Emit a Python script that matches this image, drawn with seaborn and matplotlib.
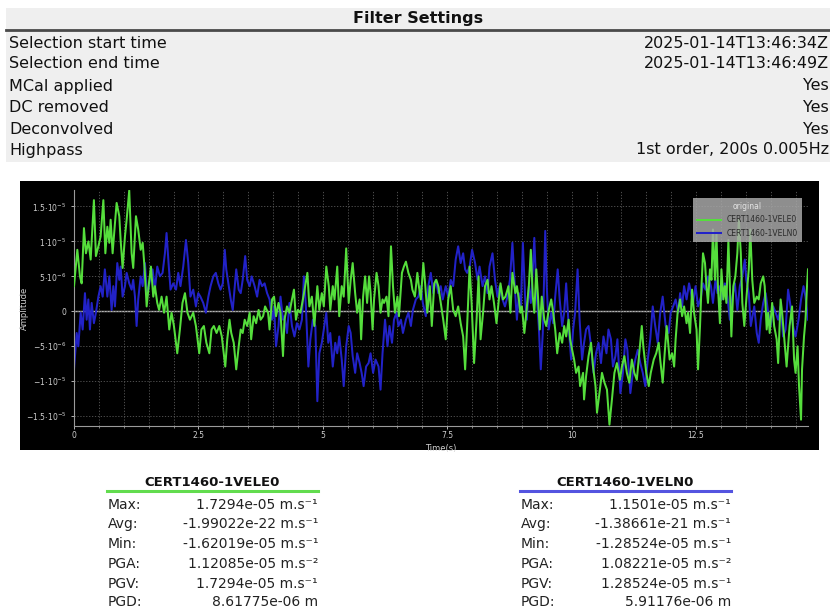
import numpy as np
import pandas as pd
import matplotlib
matplotlib.use("Agg")
import matplotlib.pyplot as plt
from matplotlib.patches import Rectangle
from matplotlib.lines import Line2D
from matplotlib.ticker import MultipleLocator, FuncFormatter
import seaborn as sns

# ---------------------------------------------------------------- data
filter_labels = ["Selection start time", "Selection end time", "MCal applied",
                 "DC removed", "Deconvolved", "Highpass"]
filter_values = ["2025-01-14T13:46:34Z", "2025-01-14T13:46:49Z", "Yes",
                 "Yes", "Yes", "1st order, 200s 0.005Hz"]

chan_e = "CERT1460-1VELE0"
chan_n = "CERT1460-1VELN0"

# velocity traces (time in s, amplitude in micrometres per second)
e_time = [0.00, 0.067, 0.12, 0.154, 0.20, 0.24, 0.29, 0.335, 0.40, 0.44, 0.49, 0.535, 0.59, 0.63,
          0.67, 0.71, 0.736, 0.776, 0.823, 0.857, 0.91, 0.937, 0.977, 1.024, 1.058, 1.11, 1.158,
          1.19, 1.245, 1.29, 1.34, 1.38, 1.42, 1.46, 1.50, 1.546, 1.593, 1.626, 1.673, 1.71, 1.76,
          1.81, 1.86, 1.914, 1.96, 2.008, 2.075, 2.128, 2.18, 2.23, 2.28, 2.33, 2.396, 2.45, 2.517,
          2.56, 2.61, 2.66, 2.72, 2.764, 2.81, 2.865, 2.92, 2.97,
          3.04, 3.08, 3.125, 3.16, 3.21, 3.26, 3.31, 3.35, 3.39, 3.43, 3.48, 3.53, 3.56, 3.61, 3.66,
          3.71, 3.75, 3.80, 3.84, 3.90, 3.93, 3.98, 4.02, 4.06, 4.11, 4.15, 4.20, 4.23, 4.28, 4.33,
          4.38, 4.42, 4.46, 4.50, 4.55, 4.60, 4.645, 4.69, 4.73, 4.78, 4.83, 4.89, 4.93, 4.98, 5.02,
          5.07, 5.12, 5.15, 5.20, 5.235, 5.29, 5.33, 5.38, 5.42, 5.47, 5.52, 5.56, 5.60, 5.65, 5.69,
          5.74, 5.77, 5.81, 5.85, 5.89,
          5.93, 5.96, 6.00, 6.03, 6.08, 6.12, 6.16, 6.20, 6.23, 6.28, 6.32, 6.37, 6.41, 6.45, 6.50,
          6.53, 6.59, 6.63, 6.67, 6.72, 6.77, 6.80, 6.85, 6.90, 6.93, 6.97, 7.02, 7.06, 7.10, 7.15,
          7.19, 7.24, 7.28, 7.32, 7.37, 7.42, 7.47, 7.52, 7.57, 7.62, 7.67, 7.72, 7.77, 7.82, 7.86,
          7.90, 7.95, 7.99, 8.04, 8.09, 8.13, 8.17, 8.22, 8.26, 8.31, 8.35, 8.39, 8.44, 8.49, 8.53,
          8.57, 8.62, 8.67, 8.73, 8.77, 8.81,
          8.87, 8.90, 8.94, 8.97, 9.00, 9.05, 9.09, 9.14, 9.18, 9.22, 9.25, 9.29, 9.32, 9.36, 9.40,
          9.45, 9.49, 9.54, 9.59, 9.63, 9.67, 9.71, 9.76, 9.81, 9.85, 9.89, 9.94, 9.97, 10.01, 10.05,
          10.09, 10.14, 10.17, 10.23, 10.25, 10.29, 10.34, 10.39, 10.43, 10.48, 10.51, 10.56, 10.61,
          10.66, 10.71, 10.76, 10.81, 10.86, 10.91, 10.97, 11.01, 11.06, 11.11, 11.16, 11.21, 11.26,
          11.31, 11.36, 11.41, 11.44, 11.50, 11.55, 11.59, 11.65, 11.70, 11.75, 11.78, 11.83,
          11.87, 11.91, 11.94, 11.97, 12.02, 12.06, 12.09, 12.13, 12.18, 12.22, 12.26, 12.31, 12.34,
          12.38, 12.42, 12.46, 12.51, 12.54, 12.58, 12.61, 12.64, 12.68, 12.71, 12.74, 12.78, 12.81,
          12.84, 12.88, 12.91, 12.94, 12.98, 13.01, 13.05, 13.08, 13.11, 13.15, 13.18, 13.21, 13.25,
          13.29, 13.33, 13.36, 13.40, 13.43, 13.47, 13.52, 13.56, 13.59, 13.63, 13.67, 13.72, 13.76,
          13.80, 13.85, 13.88, 13.92, 13.95, 13.98, 14.03, 14.07, 14.12, 14.15, 14.20, 14.23, 14.27,
          14.32, 14.35, 14.38, 14.43, 14.47, 14.50, 14.54, 14.57, 14.61, 14.63, 14.67, 14.70, 14.73,
          14.75]
e_vel = [3.6, 8.8, 5.0, 4.0, 11.9, 8.3, 10.0, 7.4, 15.9, 7.9, 9.3, 10.7, 15.9, 8.3,
         12.1, 9.8, 13.1, 8.3, 12.6, 15.5, 13.6, 10.2, 6.2, 10.7, 13.1, 17.294, 8.3,
         6.2, 13.6, 11.7, 8.8, 9.8, 6.0, 0.7, 3.6, 6.4, 2.1, 3.6, 1.2, 0.2, 2.1,
         -0.2, 2.1, -2.6, -0.2, -2.1, -6.0, -2.6, 1.2, 2.6, -0.2, -1.2, -0.2, -2.1, -6.0,
         -2.6, -2.1, -4.5, -6.0, -2.6, -2.1, -3.1, -2.1, -3.6,
         -7.9, -4.0, -1.2, -3.1, -4.5, -8.3, -5.0, -2.6, -3.1, -1.2, -2.1, -0.2, -4.0, -0.7, -1.7,
         0.2, -1.2, -0.7, 0.7, -0.2, -2.6, 1.7, 2.1, -0.7, 1.2, -0.2, -6.4, -1.2, 0.7, -0.2,
         1.7, 3.1, -1.2, 0.2, -0.2, 1.7, 3.6, 5.5, 0.7, 2.1, -2.1, 3.6, 0.2, 2.6, 0.7,
         6.4, 3.6, 0.2, 3.6, 1.7, 6.4, -0.7, 3.6, 2.1, 9.0, 1.2, 4.5, 6.9, 2.6, -0.2,
         1.7, -4.0, 2.1, 5.0, 1.2,
         5.0, 2.6, -2.6, 1.7, 5.5, 3.6, -0.2, 1.7, 1.2, 2.1, -0.7, 9.3, 3.6, -0.2, 2.1,
         -0.7, 5.5, 6.4, 7.1, 5.5, 4.5, 3.1, 2.1, 5.5, 3.6, 1.7, 6.9, 3.6, -0.2, 3.6,
         -2.1, 4.0, 4.5, 3.6, 1.2, -1.2, -4.0, 1.7, 3.6, 0.2, -0.7, 0.7, -1.7, -3.6, -8.3,
         -2.1, 6.4, 1.2, -7.4, -1.2, 5.0, -4.0, -0.2, 3.6, 4.5, 1.7, 3.6, 1.2, -1.7, 1.2,
         4.0, 1.7, 2.1, 3.6, -0.2, 5.5,
         2.6, 3.6, 1.7, -0.2, 0.7, -3.1, -0.2, 3.6, 8.8, 2.1, -0.2, 6.0, 2.6, -2.6, 2.1,
         -1.2, -2.1, 0.2, 1.7, -0.2, -2.6, -6.0, -3.1, -4.5, -2.1, -3.6, -1.2, -4.0, -5.5, -6.9,
         -8.8, -7.9, -10.7, -8.8, -12.6, -9.3, -6.4, -4.5, -7.9, -10.7, -14.5, -11.7, -8.8,
         -10.2, -11.2, -16.2019, -12.6, -8.8, -7.4, -9.8, -7.9, -6.4, -8.8, -10.2, -6.9, -8.8,
         -9.8, -6.0, -2.1, -5.0, -8.8, -10.7, -8.8, -6.9, -6.0, -4.5, -6.9, -10.2,
         -6.0, -2.1, -4.5, -6.9, -6.0, -7.9, -4.0, -0.2, 1.7, -0.7, 0.7, -1.7, -0.2,
         -3.1, 3.1, -0.2, -2.6, -8.3, -2.1, 3.6, 8.3, 6.9, 3.6, 1.2, 6.0, 4.5,
         11.7, 4.5, 11.2, 3.6, -1.7, 6.0, 1.7, 3.6, 1.2, 10.2, 3.6, -3.6, 3.6,
         5.0, 8.3, 13.1, 8.3, 1.2, -2.1, 2.6, 6.0, 11.7, 4.5, 1.2, 2.1, 1.7,
         4.0, 5.0, 3.6, -2.6, -0.2, -3.1, 1.2, -2.1, -4.0, -7.4, 1.7, -0.2, -3.6,
         -7.9, -5.0, -2.1, 0.7, -6.9, -8.8, -5.0, -10.7, -15.5, -8.3, -3.6, -1.2, 3.6,
         6.0]

n_time = [0.00, 0.054, 0.087, 0.134, 0.174, 0.22, 0.254, 0.288, 0.32, 0.355, 0.40, 0.44, 0.49,
          0.535, 0.576, 0.62, 0.67, 0.71, 0.756, 0.79, 0.823, 0.87, 0.91, 0.937, 0.977, 1.024,
          1.058, 1.11, 1.158, 1.19, 1.225, 1.258, 1.29, 1.34, 1.38, 1.426, 1.47, 1.526, 1.58,
          1.626, 1.673, 1.727, 1.78, 1.827, 1.86, 1.90, 1.94, 1.995, 2.05, 2.095, 2.14, 2.195,
          2.25, 2.296, 2.34, 2.396, 2.45, 2.497, 2.54, 2.597, 2.65, 2.70, 2.744, 2.80, 2.85,
          2.90, 2.945,
          2.99, 3.03, 3.06, 3.11, 3.15, 3.19, 3.23, 3.26, 3.31, 3.35, 3.39, 3.44, 3.48, 3.53, 3.57,
          3.63, 3.68, 3.73, 3.78, 3.83, 3.88, 3.93, 3.98, 4.02, 4.06, 4.11, 4.15, 4.20, 4.23, 4.28,
          4.33, 4.38, 4.43, 4.48, 4.53, 4.58, 4.62, 4.66, 4.71, 4.75, 4.80, 4.85, 4.89, 4.93, 4.98,
          5.02, 5.07, 5.11, 5.15, 5.20, 5.25, 5.29, 5.33, 5.38, 5.42, 5.47, 5.52, 5.56, 5.60, 5.65,
          5.69, 5.74, 5.78, 5.82, 5.87,
          5.92, 5.96, 6.01, 6.06, 6.12, 6.16, 6.20, 6.25, 6.30, 6.34, 6.39, 6.43, 6.48, 6.52, 6.57,
          6.61, 6.67, 6.72, 6.77, 6.81, 6.87, 6.92, 6.97, 7.01, 7.07, 7.12, 7.17, 7.22, 7.27, 7.32,
          7.37, 7.41, 7.47, 7.52, 7.57, 7.62, 7.67, 7.72, 7.77, 7.82, 7.86, 7.90, 7.95, 8.00, 8.06,
          8.11, 8.15, 8.21, 8.26, 8.31, 8.35, 8.41, 8.46, 8.51, 8.55, 8.61, 8.66, 8.71, 8.76, 8.81,
          8.87, 8.90, 8.94, 8.98, 9.02, 9.07, 9.10, 9.14, 9.18, 9.22, 9.25, 9.29, 9.34, 9.38, 9.42,
          9.47, 9.50, 9.54, 9.59, 9.63, 9.67, 9.72, 9.76, 9.81, 9.85, 9.89, 9.94, 9.99, 10.03,
          10.07, 10.12, 10.16, 10.21, 10.25, 10.29, 10.34, 10.39, 10.44, 10.49, 10.54, 10.59,
          10.64, 10.70, 10.74, 10.79, 10.83, 10.88, 10.92, 10.98, 11.03, 11.08, 11.12, 11.18,
          11.23, 11.28, 11.33, 11.38, 11.43, 11.48, 11.53, 11.58, 11.63, 11.68, 11.73, 11.78,
          11.83, 11.89,
          11.95, 11.99, 12.04, 12.09, 12.14, 12.18, 12.22, 12.26, 12.31, 12.36, 12.40, 12.44, 12.49,
          12.54, 12.60, 12.64, 12.69, 12.74, 12.80, 12.84, 12.89, 12.93, 12.98, 13.02, 13.08, 13.13,
          13.18, 13.23, 13.28, 13.33, 13.38, 13.43, 13.48, 13.51, 13.56, 13.60, 13.67, 13.72, 13.76,
          13.80, 13.85, 13.90, 13.95, 14.00, 14.05, 14.10, 14.15, 14.20, 14.25, 14.30, 14.35, 14.40,
          14.45, 14.50, 14.56, 14.61, 14.66, 14.70, 14.75]
n_vel = [-8.3, -3.1, -5.0, -0.2, -2.6, 2.6, -1.2, 1.7, -2.6, 1.2, -1.7, -0.2, 2.1,
         3.6, 2.1, 6.0, 2.1, 5.0, 0.2, 3.6, 0.7, 6.9, 4.5, 6.4, 2.1, 3.6,
         5.5, 4.0, 3.1, 4.5, 2.1, -2.1, 1.7, 5.0, 3.6, 6.9, 2.1, 4.5, 6.0,
         3.1, 6.4, 5.0, 5.5, 8.3, 11.2, 6.9, 3.1, 4.0, 3.1, 5.5, 3.6, 6.4,
         10.2, 6.9, 2.1, 3.1, 0.7, 2.6, 2.1, 1.2, -0.2, 2.1, 3.6, 5.0, 5.5,
         4.0, 3.1,
         4.0, 8.8, 6.0, 3.6, 1.7, 0.2, 3.6, 6.0, 3.1, 2.6, 4.5, 7.9, 4.5, 3.6, 5.0,
         3.6, 2.1, 4.5, 3.6, 4.0, 2.6, 1.7, -1.2, 0.7, -5.0, -2.1, 2.1, -1.2, -0.7, -3.1,
         1.2, -2.1, -3.6, -1.7, -2.6, -1.2, 5.0, 0.7, -7.9, -4.0, -1.2, -2.1, -12.8524, -6.0, -4.5,
         -2.6, -0.2, -4.5, -3.1, -7.9, -4.5, -6.0, -3.6, -6.9, -10.7, -5.0, -2.1, -3.1, -6.4, -8.8,
         -6.0, -7.4, -8.8, -10.7, -7.9,
         -7.4, -6.0, -8.8, -6.9, -7.9, -11.2, -6.0, -1.2, -5.0, -2.1, -4.5, -1.2, -0.2, -2.1, -1.2,
         -3.1, -1.2, -0.2, -2.1, 0.2, 1.7, 2.1, 3.6, 1.2, -0.7, 3.6, 5.5, 2.6, 4.5, 2.6,
         3.6, 1.7, 3.6, 2.1, 4.5, 3.6, 7.4, 9.3, 6.9, 8.3, 6.0, 5.5, 6.4, 8.8, 6.9,
         4.5, 6.4, 3.6, 5.0, 2.6, 6.4, 8.3, 4.5, 2.1, 3.6, 1.7, 0.7, 2.1, 4.5, 9.8,
         2.1, -1.2, 2.6, 0.7, 9.8, 1.2, -1.2, 3.6, 1.2, 6.0, 10.5, 3.1, -2.1, -8.3, -3.1,
         11.501, 3.6, -2.6, -0.2, -1.7, 2.1, 6.0, 1.7, -2.1, -0.2, 4.0, -2.1, -6.9, -2.6,
         -0.2, 6.0, -1.2, -6.9, -4.5, -2.6, -2.1, -5.0, -8.8, -6.0, -4.5, -7.4,
         -3.6, -6.0, -2.6, -4.0, -7.9, -6.4, -4.0, -11.7, -8.8, -4.0, -5.5, -11.7,
         -8.8, -6.9, -5.5, -7.4, -8.8, -10.7, -6.9, -4.0, 0.7, -2.1, -4.5, -0.2,
         2.1, -2.1,
         -3.1, -0.2, 0.7, 1.7, -0.2, 2.6, 0.7, 3.6, 1.7, 4.0, 2.6, 1.2, 3.6,
         0.7, 2.1, 4.0, 3.1, 5.0, 3.6, 1.2, 4.5, 2.6, 3.6, 1.7, 4.0, 2.1,
         -1.2, 2.1, 4.0, 0.2, 3.6, 5.0, 7.4, 4.5, 2.6, -2.1, 0.7, -3.1, -4.5,
         -1.2, 1.2, 2.6, -0.2, -2.1, 0.7, -0.2, -1.2, 0.7, -3.6, -2.6, 3.1, 0.7,
         -2.1, -3.6, -1.2, 1.7, 3.6, 2.1, -1.2]

# summary values reported by the processing chain
e_avg, e_pga, e_pgd = "-1.99022e-22", "1.12085e-05", "8.61775e-06"
n_avg, n_pga, n_pgd = "-1.38661e-21", "1.08221e-05", "5.91176e-06"

# ---------------------------------------------------------------- frame
W, H = 830, 609
fig = plt.figure(figsize=(W / 100, H / 100), dpi=100)
fig.patch.set_facecolor("white")
plt.rcParams["font.family"] = ["DejaVu Sans"]


def fx(x):
    return x / W


def fy(y):
    return 1 - y / H


# filter settings table
fig.patches.append(Rectangle((fx(6), fy(162)), fx(824), 154 / H, transform=fig.transFigure,
                             facecolor="#efefef", edgecolor="none", zorder=-10))
fig.text(fx(418), fy(19), "Filter Settings", ha="center", va="center",
         fontsize=11.5, fontweight="bold", color="#111111")
fig.add_artist(Line2D([fx(6), fx(830)], [fy(30), fy(30)], color="#4a4a4a", lw=2,
                      transform=fig.transFigure))
row_y = [43, 64, 86, 107, 129, 150]
for lab, val, yy in zip(filter_labels, filter_values, row_y):
    fig.text(fx(9), fy(yy), lab, ha="left", va="center", fontsize=11.5, color="#111111")
    fig.text(fx(829), fy(yy), val, ha="right", va="center", fontsize=11.5, color="#111111")

# black panel behind the plot
fig.patches.append(Rectangle((fx(20), fy(450)), fx(799), 269 / H, transform=fig.transFigure,
                             facecolor="black", edgecolor="none", zorder=-10))

ax = fig.add_axes([fx(74), fy(426), fx(734), 236 / H])
ax.set_zorder(5)
ax.set_facecolor("black")

df = pd.concat([
    pd.DataFrame({"Time(s)": e_time, "Amplitude": np.array(e_vel) * 1e-6, "channel": chan_e}),
    pd.DataFrame({"Time(s)": n_time, "Amplitude": np.array(n_vel) * 1e-6, "channel": chan_n}),
])

ax.axhline(0, color="#b4b4b4", lw=1.0, zorder=1)
sns.lineplot(data=df[df.channel == chan_e], x="Time(s)", y="Amplitude", ax=ax,
             color="#55de3c", lw=1.45, estimator=None, sort=False, label=chan_e, zorder=3)
sns.lineplot(data=df[df.channel == chan_n], x="Time(s)", y="Amplitude", ax=ax,
             color="#2222c8", lw=1.45, estimator=None, sort=False, label=chan_n, zorder=2)

ax.set_xlim(0, 14.75)
ax.set_ylim(-1.64e-5, 1.735e-5)
ax.xaxis.set_major_locator(MultipleLocator(2.5))
ax.xaxis.set_minor_locator(MultipleLocator(0.5))
ax.yaxis.set_major_locator(MultipleLocator(5e-6))


def sci_label(v, pos):
    if abs(v) < 1e-12:
        return "0"
    exp = int(np.floor(np.log10(abs(v)) + 1e-9))
    mant = "%g" % round(v / 10 ** exp, 6)
    return r"$%s\!\cdot\!10^{%d}$" % (mant, exp)


ax.yaxis.set_major_formatter(FuncFormatter(sci_label))
ax.xaxis.set_major_formatter(FuncFormatter(lambda v, p: "%g" % v))
ax.grid(which="both", axis="x", color="#5a5a5a", ls=(0, (1.5, 2)), lw=0.6)
ax.grid(which="major", axis="y", color="#5a5a5a", ls=(0, (1.5, 2)), lw=0.6)
for s in ["top", "right"]:
    ax.spines[s].set_visible(False)
for s in ["left", "bottom"]:
    ax.spines[s].set_color("#9a9a9a")
    ax.spines[s].set_linewidth(0.8)
ax.tick_params(colors="#cfcfcf", labelsize=5.5, length=2, width=0.6)
ax.tick_params(axis="x", pad=1.5)
ax.tick_params(which="minor", length=1.5, color="#9a9a9a")
ax.set_xlabel("Time(s)", color="#cfcfcf", fontsize=6)
ax.set_ylabel("Amplitude", color="#cfcfcf", fontsize=6)
ax.xaxis.set_label_coords(0.5, -0.078)
ax.yaxis.set_label_coords(-0.062, 0.5)

leg = ax.legend(loc="upper right", bbox_to_anchor=(0.992, 0.966), borderaxespad=0,
                fontsize=5.5, title="original", title_fontsize=5.5, frameon=True,
                facecolor="#a8a8a8", edgecolor="none", framealpha=0.85, handlelength=3.2,
                borderpad=0.5, labelspacing=0.6, fancybox=False)
leg.get_title().set_color("#e4e4e4")
for t in leg.get_texts():
    t.set_color("#2a2a2a")

# ---------------------------------------------------------------- channel summaries
unit1 = " m.s\u207b\u00b9"
unit2 = " m.s\u207b\u00b2"


def summary(x0, x1, title, line_color, vel, avg, pga, pgd):
    v = np.array(vel) * 1e-6
    rows = [("Max:", "%g" % v.max() + unit1),
            ("Avg:", avg + unit1),
            ("Min:", "%g" % v.min() + unit1),
            ("PGA:", pga + unit2),
            ("PGV:", "%g" % np.abs(v).max() + unit1),
            ("PGD:", pgd + " m")]
    fig.text(fx((x0 + x1) / 2), fy(483), title, ha="center", va="center",
             fontsize=9.5, fontweight="bold", color="#111111")
    fig.add_artist(Line2D([fx(x0), fx(x1)], [fy(491), fy(491)], color=line_color, lw=2.2,
                          transform=fig.transFigure))
    for (lab, val), yy in zip(rows, [505, 524, 544, 564, 584, 602]):
        fig.text(fx(x0 + 1), fy(yy), lab, ha="left", va="center", fontsize=10, color="#222222")
        fig.text(fx(x1), fy(yy), val, ha="right", va="center", fontsize=10, color="#222222")


summary(107, 318, chan_e, "#62dc4e", e_vel, e_avg, e_pga, e_pgd)
summary(520, 731, chan_n, "#5454e0", n_vel, n_avg, n_pga, n_pgd)

fig.savefig("out.png", dpi=100, facecolor="white")
